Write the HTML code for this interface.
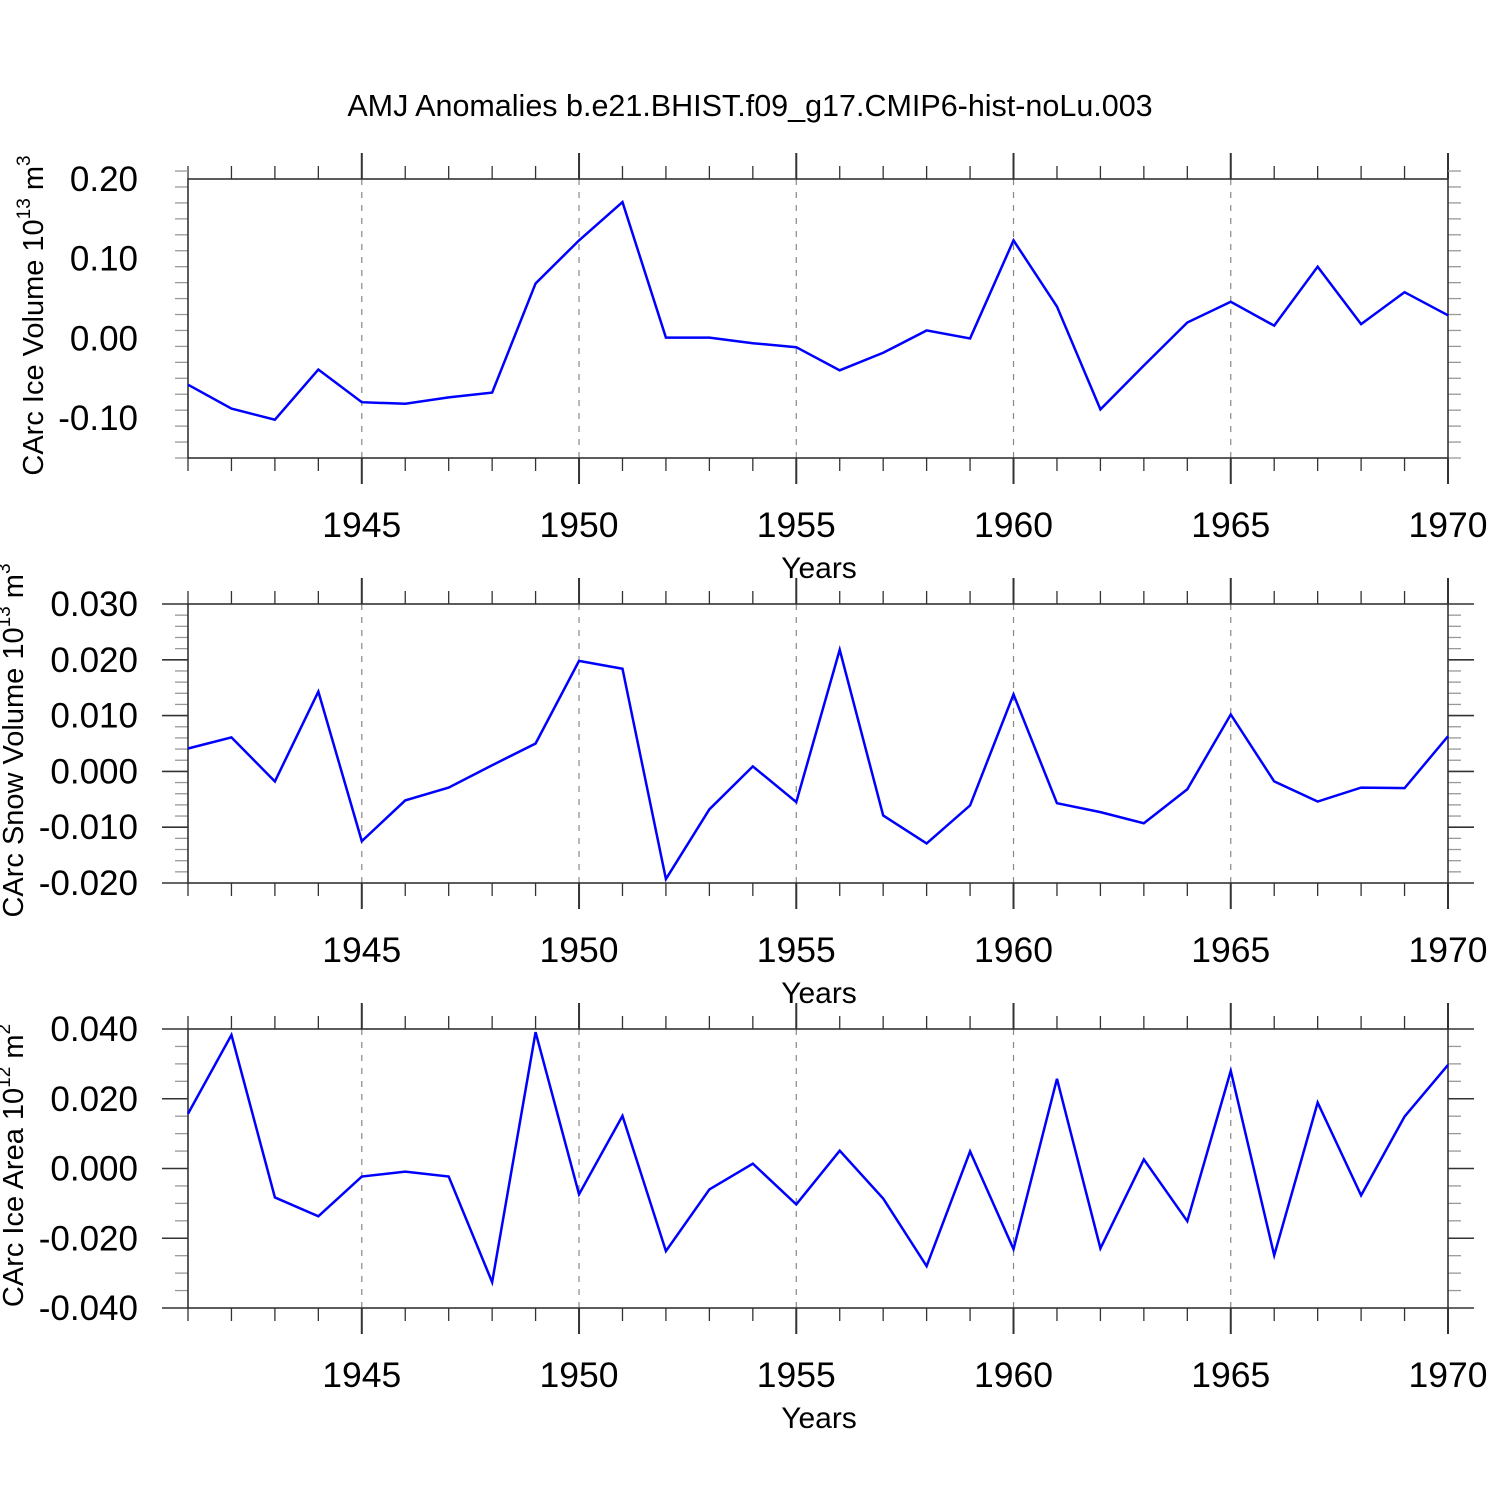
<!DOCTYPE html>
<html><head><meta charset="utf-8"><style>
html,body{margin:0;padding:0;background:#fff;}
svg{display:block;font-family:"Liberation Sans",sans-serif;}
</style></head><body>
<svg id="chart" width="1500" height="1500" xmlns="http://www.w3.org/2000/svg">
<text x="750" y="116" font-size="30.5" text-anchor="middle">AMJ Anomalies b.e21.BHIST.f09_g17.CMIP6-hist-noLu.003</text>
</svg>
<script>
const years = [1941,1942,1943,1944,1945,1946,1947,1948,1949,1950,1951,1952,1953,1954,1955,1956,1957,1958,1959,1960,1961,1962,1963,1964,1965,1966,1967,1968,1969,1970];
const iceVolume = [-0.058,-0.088,-0.102,-0.039,-0.080,-0.082,-0.074,-0.068,0.069,0.123,0.171,0.001,0.001,-0.006,-0.011,-0.040,-0.018,0.010,0.000,0.123,0.040,-0.089,-0.034,0.020,0.046,0.016,0.090,0.018,0.058,0.029];
const snowVolume = [0.0041,0.0061,-0.0018,0.0143,-0.0125,-0.0052,-0.0029,0.0011,0.0050,0.0198,0.0184,-0.0193,-0.0068,0.0009,-0.0055,0.0218,-0.0079,-0.0129,-0.0061,0.0138,-0.0057,-0.0073,-0.0093,-0.0032,0.0102,-0.0018,-0.0054,-0.0029,-0.0030,0.0063];
const iceArea = [0.0157,0.0383,-0.0083,-0.0137,-0.0023,-0.0009,-0.0023,-0.0326,0.0391,-0.0074,0.0151,-0.0237,-0.0060,0.0014,-0.0103,0.0051,-0.0086,-0.0280,0.0049,-0.0231,0.0257,-0.0229,0.0026,-0.0151,0.0280,-0.0249,0.0189,-0.0077,0.0149,0.0297];
const xTickLabels = ["1945","1950","1955","1960","1965","1970"];
const ticks1 = ["0.20","0.10","0.00","-0.10"];
const ticks2 = ["0.030","0.020","0.010","0.000","-0.010","-0.020"];
const ticks3 = ["0.040","0.020","0.000","-0.020","-0.040"];

const NS="http://www.w3.org/2000/svg";
const svg=document.getElementById('chart');
function mk(tag,attrs,parent){const e=document.createElementNS(NS,tag);for(const k in attrs)e.setAttribute(k,attrs[k]);(parent||svg).appendChild(e);return e;}
const X0=188,X1=1448,H=279;
function xs(yr){return X0+(yr-1941)*(X1-X0)/29;}

const panels=[
 {top:179,min:-0.15,max:0.20,data:iceVolume,ticks:ticks1,major:0.1,minor:0.02,name:'ice-volume',title:'CArc Ice Volume 10',sup:'13',unit:' m',usup:'3',tx:43},
 {top:604,min:-0.020,max:0.030,data:snowVolume,ticks:ticks2,major:0.01,minor:0.002,name:'snow-volume',title:'CArc Snow Volume 10',sup:'13',unit:' m',usup:'3',tx:23},
 {top:1029,min:-0.040,max:0.040,data:iceArea,ticks:ticks3,major:0.02,minor:0.005,name:'ice-area',title:'CArc Ice Area 10',sup:'12',unit:' m',usup:'2',tx:23}
];
panels.forEach(p=>{
 const g=mk('g',{});
 
 
 const bot=p.top+H;
 const ys=v=>bot-(v-p.min)/(p.max-p.min)*H;
 xTickLabels.forEach(l=>{const yr=+l;if(yr<1970){const gl=mk('line',{x1:xs(yr),x2:xs(yr),y1:p.top,y2:bot,stroke:'#888','stroke-width':1.2,'stroke-dasharray':'6,7'},g);
  
  }});
 for(let yr=1941;yr<=1970;yr++){
  const maj=yr%5===0;const L=maj?26:13;const x=xs(yr);
  mk('line',{x1:x,x2:x,y1:p.top-L,y2:p.top,stroke:'#333','stroke-width':maj?2:1.3},g);
  mk('line',{x1:x,x2:x,y1:bot,y2:bot+L,stroke:'#333','stroke-width':maj?2:1.3},g);
 }
 const nMin=Math.round((p.max-p.min)/p.minor);
 for(let i=0;i<=nMin;i++){
  const v=p.min+i*p.minor;const r=v/p.major;const maj=Math.abs(r-Math.round(r))<1e-6;
  const y=ys(v);const L=maj?26:13;
  mk('line',{x1:X0-L,x2:X0,y1:y,y2:y,stroke:maj?'#333':'#999','stroke-width':maj?1.6:1.3},g);
  mk('line',{x1:X1,x2:X1+L,y1:y,y2:y,stroke:maj?'#333':'#999','stroke-width':maj?1.6:1.3},g);
 }
 const fr=mk('rect',{x:X0,y:p.top,width:X1-X0,height:H,fill:'none',stroke:'#333','stroke-width':1.6},g);
 
 
 p.ticks.forEach(t=>{const tx=mk('text',{x:138,y:ys(+t)+12,'font-size':35,'text-anchor':'end'},g);tx.textContent=t;
  
  });
 xTickLabels.forEach(l=>{const tx=mk('text',{x:xs(+l),y:p.top+358,'font-size':35.5,'text-anchor':'middle'},g);tx.textContent=l;
  
  });
 const xt=mk('text',{x:819,y:p.top+399,'font-size':30,'text-anchor':'middle'},g);xt.textContent='Years';
 
 
 const yt=mk('text',{x:0,y:0,'font-size':29,'text-anchor':'middle',transform:`translate(${p.tx},${p.top+H/2-3}) rotate(-90)`},g);
 
 
 const t1=mk('tspan',{},yt);t1.textContent=p.title;
 const t2=mk('tspan',{dy:-13,'font-size':19},yt);t2.textContent=p.sup;
 const t3=mk('tspan',{dy:13},yt);t3.textContent=p.unit;
 const t4=mk('tspan',{dy:-13,'font-size':19},yt);t4.textContent=p.usup;
 const pts=years.map((yr,i)=>xs(yr)+','+ys(p.data[i])).join(' ');
 const pl=mk('polyline',{points:pts,fill:'none',stroke:'#0000ff','stroke-width':2.5,'stroke-linejoin':'miter'},g);
 
 
});
</script>
</body></html>
